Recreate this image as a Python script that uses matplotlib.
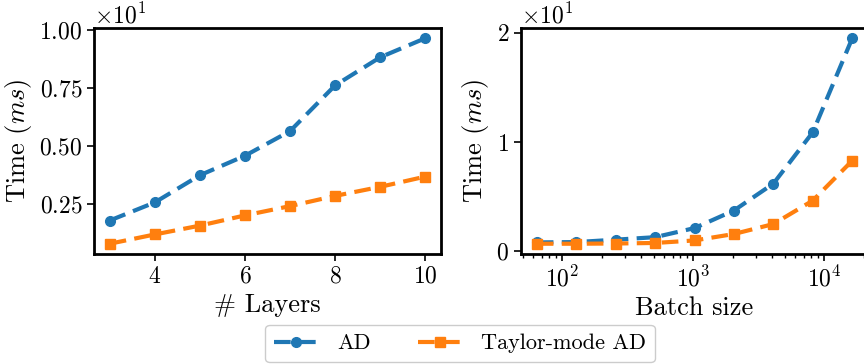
import matplotlib
matplotlib.use("Agg")
from matplotlib import pyplot as plt
from matplotlib.ticker import ScalarFormatter, MultipleLocator

plt.rcParams['font.family'] = 'serif'
plt.rcParams['font.serif'] = ['cmr10']
plt.rcParams['mathtext.fontset'] = 'cm'
plt.rcParams['axes.unicode_minus'] = False
plt.rcParams['axes.formatter.use_mathtext'] = True

# runtime vs. depth (ms)
layers = [3, 4, 5, 6, 7, 8, 9, 10]
ad_layers = [1.78, 2.56, 3.73, 4.57, 5.63, 7.60, 8.81, 9.63]
taylor_layers = [0.78, 1.18, 1.56, 2.00, 2.40, 2.84, 3.23, 3.67]

# runtime vs. batch size (ms)
batch = [64, 128, 256, 512, 1024, 2048, 4096, 8192, 16384]
ad_batch = [0.82, 0.85, 1.07, 1.30, 2.13, 3.74, 6.20, 10.9, 19.5]
taylor_batch = [0.70, 0.70, 0.72, 0.77, 1.00, 1.59, 2.50, 4.65, 8.30]

fig = plt.figure(figsize=(8.64, 3.64), dpi=100)
ax1 = fig.add_axes([94 / 864, 110 / 364, 347 / 864, 226 / 364])
ax2 = fig.add_axes([521 / 864, 110 / 364, 347 / 864, 226 / 364])

style = dict(linestyle='--', linewidth=3, markersize=7, dashes=(4, 2))

ax1.plot(layers, ad_layers, marker='o', color='#1f77b4', label='AD', **style)
ax1.plot(layers, taylor_layers, marker='s', color='#ff7f0e', label='Taylor-mode AD', **style)
ax2.plot(batch, ad_batch, marker='o', color='#1f77b4', **style)
ax2.plot(batch, taylor_batch, marker='s', color='#ff7f0e', **style)
ax2.set_xscale('log')

ax1.xaxis.set_major_locator(MultipleLocator(2))
ax1.yaxis.set_major_locator(MultipleLocator(2.5))
ax2.yaxis.set_major_locator(MultipleLocator(10))

for ax in (ax1, ax2):
    fmt = ScalarFormatter(useMathText=True)
    fmt.set_powerlimits((0, 0))
    ax.yaxis.set_major_formatter(fmt)
    ax.yaxis.get_offset_text().set_fontsize(17)
    ax.tick_params(labelsize=17, width=1.2, length=5)
    ax.tick_params(which='minor', width=1, length=3)
    for sp in ax.spines.values():
        sp.set_linewidth(2)
    ax.set_ylabel('Time ($ms$)', fontsize=19)

ax1.set_xlabel('# Layers', fontsize=19)
ax2.set_xlabel('Batch size', fontsize=19)

fig.legend(loc='upper center', bbox_to_anchor=(460 / 864, 1 - 325 / 364),
           borderaxespad=0, ncol=2, fontsize=16, columnspacing=2.1,
           handlelength=2.0, handletextpad=0.85,
           fancybox=True, framealpha=1)

fig.savefig('out.png', dpi=100)
